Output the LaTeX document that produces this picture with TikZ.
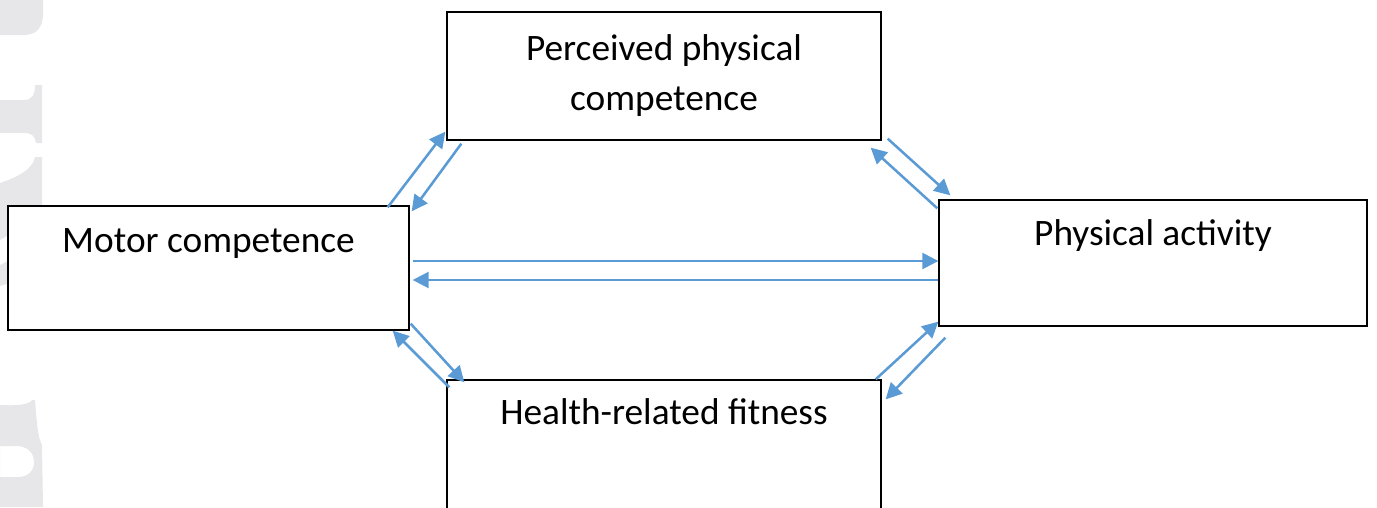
\documentclass[tikz,border=0pt]{standalone}
\usepackage{fontspec}
\setmainfont{Carlito}
\usetikzlibrary{arrows.meta,calc}
\definecolor{arrowblue}{RGB}{91,155,213}
\definecolor{wm}{RGB}{231,231,233}
\begin{document}
\begin{tikzpicture}[x=0.75pt,y=-0.75pt,
 box/.style={draw=black,line width=1pt,fill=white,inner sep=0pt},
 lbl/.style={font=\fontsize{28pt}{37.5pt}\selectfont,anchor=base,inner sep=0pt,align=center},
 conn/.style={draw=arrowblue,line width=1.9pt,-{Triangle[length=12pt,width=12pt]}}]
\useasboundingbox (0,0) rectangle (1377,507);
% watermark (light grey letter fragments at the left edge)
\fill[wm] (0,0) -- (43,0) -- (43,14) .. controls (43,28) and (36,35) .. (24,35) -- (0,35) -- cycle;
\fill[wm] (35,85) -- (42,85) -- (42,143) -- (36,143) .. controls (35,136) and (32,133) .. (24,133) -- (0,133) -- (0,100) -- (24,100) .. controls (32,100) and (35,95) .. (35,85) -- cycle;
\fill[wm] (35,157) -- (42,157) -- (42,215) -- (0,240) -- (0,183) .. controls (15,178) and (33,170) .. (35,157) -- cycle;
\fill[wm] (0,265) -- (10,260) -- (10,283) -- (0,286) -- cycle;
\fill[wm,even odd rule] (32,400) -- (35,400) .. controls (37,425) and (38,438) .. (42,445) -- (43,507) -- (0,507) -- (0,405) .. controls (20,406) and (30,404) .. (32,400) -- cycle
  (0,446) -- (18,446) .. controls (29,447) and (34,454) .. (34,462) .. controls (34,471) and (28,477) .. (18,477) -- (0,477) -- cycle;
% boxes
\node[box,minimum width=325.5pt,minimum height=96pt] (ppc) at (664,76) {};
\node[box,minimum width=300.75pt,minimum height=93pt] (mc) at (208.5,268) {};
\node[box,minimum width=321pt,minimum height=94.5pt] (pa) at (1153,263) {};
\node[box,minimum width=325.5pt,minimum height=99pt] (hrf) at (664,446) {};
% labels
\node[lbl] (tppc) at (664,110) {Perceived physical\\competence};
\node[lbl] (tmc) at (208.5,252) {Motor competence};
\node[lbl] (tpa) at (1153,245) {Physical activity};
\node[lbl] (thrf) at (664,424) {Health-related fitness};
% connectors
\draw[conn] ($(mc.north east)+(-22,2)$) -- ($(ppc.south west)+(-1,-9)$);
\draw[conn] ($(ppc.south west)+(15,3)$) -- ($(mc.north east)+(2,6)$);
\draw[conn] ($(ppc.south east)+(6,-2)$) -- ($(pa.north west)+(12,-4)$);
\draw[conn] ($(pa.north west)+(-1,9)$) -- ($(ppc.south east)+(-11,7)$);
\draw[conn] ($(mc.east)+(3,-7)$) -- ($(pa.west)+(0,-2)$);
\draw[conn] ($(pa.west)+(0,17)$) -- ($(mc.east)+(3,12)$);
\draw[conn] ($(mc.south east)+(1,-7)$) -- ($(hrf.north west)+(18,3)$);
\draw[conn] ($(hrf.north west)+(3,8)$) -- ($(mc.south east)+(-17,0)$);
\draw[conn] ($(hrf.north east)+(-6,0)$) -- ($(pa.south west)+(0,-5)$);
\draw[conn] ($(pa.south west)+(7,11)$) -- ($(hrf.north east)+(4,20)$);
\end{tikzpicture}
\end{document}
